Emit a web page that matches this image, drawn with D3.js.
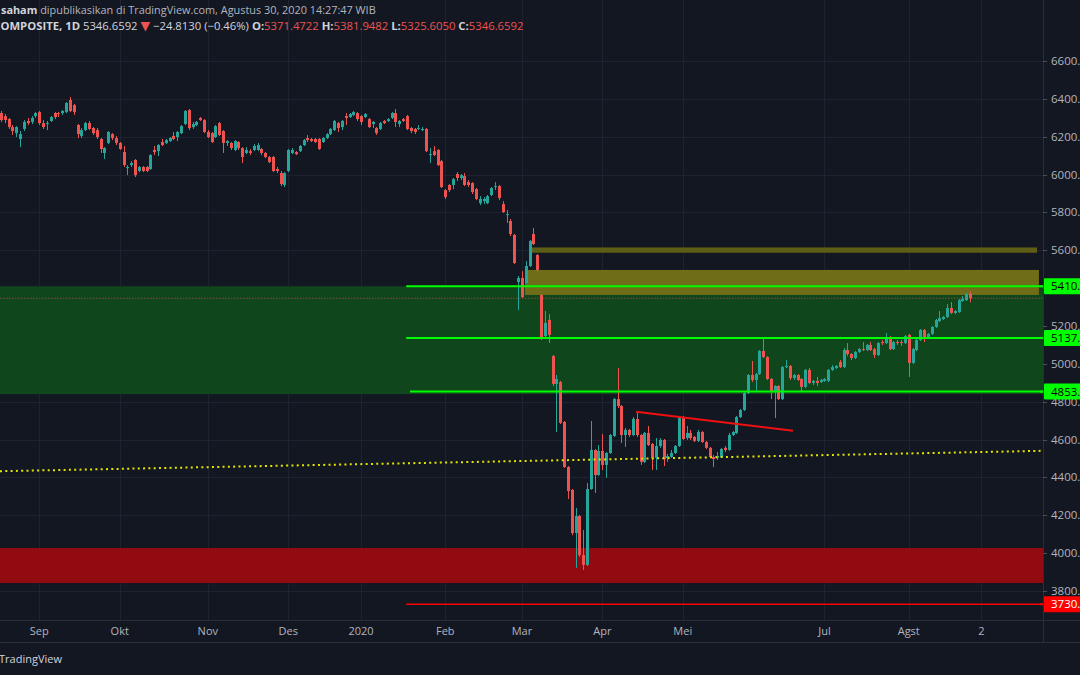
<!DOCTYPE html>
<html><head><meta charset="utf-8">
<script src="https://cdn.jsdelivr.net/npm/d3@7/dist/d3.min.js"></script>
<style>html,body{margin:0;padding:0;background:#131722;overflow:hidden}text{white-space:pre}</style>
</head><body><svg id="c" width="1080" height="675"></svg>
<script>
// ---------- data ----------
const open=[6325,6309,6293,6251,6219,6188,6241,6283,6278,6309,
6330,6272,6267,6283,6325,6325,6325,6330,6394,6367,
6262,6204,6235,6272,6246,6235,6188,6114,6167,6214,
6193,6167,6119,6034,6050,6077,6019,6040,6040,6029,
6130,6124,6172,6167,6177,6204,6198,6219,6267,6341,
6251,6262,6299,6288,6225,6219,6198,6272,6230,6167,
6167,6130,6172,6140,6114,6124,6130,6130,6135,6114,
6093,6093,6029,6008,5945,6019,6114,6119,6124,6156,
6193,6188,6188,6188,6172,6193,6214,6235,6272,6251,
6309,6304,6315,6325,6309,6304,6293,6267,6246,6241,
6283,6283,6299,6325,6267,6293,6309,6246,6241,6241,
6235,6241,6103,6124,6130,6071,5918,5945,5945,6003,
5982,5992,5960,5955,5923,5849,5860,5849,5892,5934,
5939,5844,5786,5755,5681,5432,5454,5427,5517,5686,
5575,5364,5147,5232,5041,4894,4904,4693,4455,4334,
4106,4196,3990,3938,4339,4545,4413,4540,4466,4529,
4619,4814,4777,4624,4651,4624,4709,4624,4482,4635,
4577,4503,4566,4598,4503,4508,4529,4566,4719,4608,
4635,4614,4593,4640,4587,4556,4508,4503,4508,4556,
4545,4624,4635,4719,4756,4846,4941,4915,4946,5068,
5036,4920,4851,4883,4814,4983,4989,4925,4941,4920,
4878,4968,4899,4910,4904,4910,4910,4968,4978,5010,
4983,5073,5052,5031,5063,5078,5073,5100,5078,5047,
5115,5110,5142,5078,5115,5115,5110,5153,5005,5073,
5126,5179,5142,5158,5195,5226,5237,5248,5295,5269,
5274,5332,5337,5371.47];
const high=[6336,6320,6299,6262,6256,6230,6288,6299,6309,6330,
6336,6288,6283,6309,6330,6330,6341,6383,6410,6373,
6267,6246,6278,6283,6251,6246,6193,6145,6230,6219,
6204,6172,6151,6050,6071,6082,6045,6045,6045,6108,
6151,6161,6188,6188,6198,6225,6230,6262,6341,6346,
6278,6283,6304,6293,6235,6225,6262,6278,6235,6182,
6172,6182,6177,6145,6145,6135,6161,6167,6140,6119,
6098,6098,6040,6019,6013,6135,6140,6124,6156,6188,
6209,6193,6193,6193,6198,6219,6246,6288,6278,6288,
6325,6325,6336,6330,6315,6325,6299,6283,6251,6278,
6288,6299,6330,6346,6288,6299,6315,6251,6246,6262,
6251,6246,6140,6151,6135,6077,5923,5950,5982,6013,
6003,6008,5971,5960,5929,5886,5881,5892,5934,5960,
5945,5860,5812,5765,5686,5464,5490,5543,5654,5718,
5580,5369,5279,5263,5047,4941,4910,4698,4460,4339,
4239,4202,4122,4371,4698,4550,4571,4629,4534,4629,
4820,4978,4783,4661,4656,4719,4751,4629,4640,4672,
4582,4608,4608,4603,4524,4545,4571,4725,4725,4672,
4651,4619,4651,4645,4593,4561,4518,4534,4556,4566,
4635,4645,4725,4762,4851,4946,5015,4952,5073,5137,
5041,4925,4888,4888,4989,5020,4994,4946,4946,4925,
4973,4978,4915,4931,4920,4925,4973,4994,4994,5020,
5084,5110,5057,5068,5084,5115,5105,5115,5084,5115,
5126,5163,5147,5121,5126,5126,5153,5158,5084,5131,
5184,5184,5163,5200,5237,5279,5253,5316,5327,5284,
5343,5358,5374,5381.95];
const low=[6278,6272,6241,6209,6198,6145,6230,6262,6267,6299,
6262,6241,6235,6278,6293,6304,6315,6325,6330,6315,
6193,6193,6230,6235,6209,6188,6114,6082,6161,6182,
6156,6130,6040,5997,6040,5987,6013,6013,6013,6024,
6103,6098,6151,6161,6172,6182,6177,6214,6262,6235,
6241,6256,6283,6219,6193,6167,6193,6204,6114,6151,
6130,6124,6130,6061,6108,6103,6124,6124,6103,6087,
6061,6013,6008,5939,5934,6013,6108,6103,6119,6151,
6172,6172,6167,6130,6167,6188,6209,6230,6225,6235,
6262,6299,6309,6283,6262,6299,6246,6246,6209,6235,
6267,6278,6293,6251,6251,6278,6235,6219,6214,6235,
6230,6119,6061,6098,6045,5929,5871,5908,5923,5966,
5971,5939,5934,5897,5865,5839,5844,5844,5886,5918,
5865,5797,5744,5675,5527,5284,5348,5422,5512,5628,
5490,5126,5142,5110,4883,4640,4682,4450,4286,4095,
3922,3980,3911,3932,4334,4318,4408,4439,4397,4524,
4614,4767,4582,4561,4614,4619,4614,4466,4476,4566,
4439,4439,4556,4460,4482,4503,4524,4561,4598,4598,
4598,4587,4587,4582,4550,4503,4455,4492,4503,4534,
4540,4619,4629,4714,4751,4841,4904,4851,4941,5031,
4915,4814,4714,4809,4809,4978,4915,4915,4910,4851,
4873,4894,4888,4883,4899,4904,4904,4962,4973,4978,
4978,5041,5020,5025,5057,5068,5068,5068,5031,5041,
5100,5105,5073,5073,5100,5094,5105,4931,4999,5068,
5121,5115,5137,5153,5189,5221,5232,5242,5263,5263,
5269,5327,5332,5325.61];
const close=[6288,6288,6251,6230,6251,6214,6278,6272,6299,6325,
6272,6251,6272,6304,6304,6320,6336,6378,6336,6330,
6214,6235,6272,6241,6219,6198,6135,6140,6225,6193,
6167,6135,6050,6040,6061,5997,6040,6019,6019,6103,
6119,6156,6156,6182,6193,6188,6225,6256,6336,6246,
6267,6278,6288,6225,6198,6172,6256,6209,6167,6177,
6140,6177,6140,6093,6130,6114,6151,6156,6114,6093,
6066,6019,6019,5950,6008,6130,6130,6108,6151,6182,
6182,6177,6172,6135,6193,6214,6241,6283,6246,6283,
6299,6320,6330,6293,6278,6320,6251,6278,6219,6272,
6272,6293,6325,6278,6283,6283,6241,6230,6225,6246,
6241,6124,6108,6103,6050,5934,5881,5918,5976,5982,
5997,5945,5945,5908,5871,5871,5871,5886,5929,5939,
5876,5802,5791,5686,5533,5454,5353,5517,5649,5633,
5496,5137,5216,5153,4894,4920,4688,4455,4328,4106,
4196,3990,3938,4339,4545,4413,4540,4466,4529,4624,
4814,4777,4624,4651,4624,4709,4624,4482,4635,4571,
4503,4566,4598,4497,4513,4529,4566,4719,4603,4635,
4608,4593,4640,4587,4556,4508,4497,4513,4550,4545,
4624,4640,4719,4756,4846,4941,4915,4946,5068,5036,
4920,4851,4883,4814,4983,4989,4925,4941,4915,4878,
4968,4899,4910,4899,4915,4920,4968,4983,4989,4983,
5073,5052,5031,5063,5078,5073,5100,5073,5047,5110,
5110,5142,5078,5115,5110,5110,5147,5005,5078,5126,
5179,5142,5158,5195,5232,5242,5248,5295,5269,5279,
5337,5343,5369,5346.66];

const monthLabels=["Sep","Okt","Nov","Des","2020","Feb","Mar","Apr","Mei","Jul","Agst","2"];
const monthIndex=[10,31,54,75,94,116,136,157,178,215,237,256];
const priceTicks=[3800,4000,4200,4400,4600,4800,5000,5200,5400,5600,5800,6000,6200,6400,6600];

// horizontal levels (price, start bar index)
const greenLevels=[5410,5137,4853.4];
const greenLevelStart=[105.8,105.8,106.8];
const redLevel=3730, redLevelStart=105.8;
// zones [low, high, startIndex, endIndex]
const greenZone=[4840,5410,-10,280];
const redZone=[3842,4027,-10,280];
const oliveBoxLow=[5364,5496,136.8,271];
const oliveBoxHigh=[5587,5615,138.4,270.5];
// trendlines: [idx0, price0, idx1, price1]
const redTrend=[165.8,4747,206.8,4647];
const yellowTrend=[0,4433,253,4533];
const lastPrice=5346.66;

const header1Bold="saham", header1Rest=" dipublikasikan di TradingView.com, Agustus 30, 2020 14:27:47 WIB";
const symbolText="COMPOSITE, 1D", priceText="5346.6592", changeText="\u221224.8130 (\u22120.46%)";
const ohlcText=[["O:","5371.4722"],["H:","5381.9482"],["L:","5325.6050"],["C:","5346.6592"]];

// ---------- drawing ----------
const W=1080,H=675, plotR=1043, axisTop=620, axisBot=642;
const svg=d3.select("#c");
const x=d3.scaleLinear().domain([0,253]).range([1,970]);
const y=d3.scaleLinear().domain([3800,6600]).range([591,61]);
const UP="#26a69a", DN="#ef5350", FONT="'Open Sans', 'Noto Sans', sans-serif";

svg.append("rect").attr("width",W).attr("height",H).attr("fill","#131722");

svg.append("clipPath").attr("id","pc").append("rect").attr("x",0).attr("y",0).attr("width",plotR).attr("height",axisTop);
const plot=svg.append("g").attr("clip-path","url(#pc)");

// grid
plot.selectAll(".hg").data(priceTicks).join("line")
  .attr("x1",0).attr("x2",plotR).attr("y1",d=>Math.round(y(d))+0.5).attr("y2",d=>Math.round(y(d))+0.5)
  .attr("stroke","#1f2330").attr("stroke-width",1);
plot.selectAll(".vg").data(monthIndex).join("line")
  .attr("x1",d=>Math.round(x(d))+0.5).attr("x2",d=>Math.round(x(d))+0.5).attr("y1",0).attr("y2",axisTop)
  .attr("stroke","#1f2330").attr("stroke-width",1);

// zones
function box(z,fill,op){
  plot.append("rect").attr("x",x(z[2])).attr("width",x(z[3])-x(z[2]))
    .attr("y",y(z[1])).attr("height",y(z[0])-y(z[1])).attr("fill",fill).attr("opacity",op);
}
box(greenZone,"#10461c",1);
box(redZone,"#910b10",1);
box(oliveBoxLow,"#6f6d17",1);
box(oliveBoxHigh,"#5e5d14",1);

// candles
const idx=d3.range(open.length);
const cg=plot.append("g");
cg.selectAll(".w").data(idx).join("line")
  .attr("x1",i=>Math.round(x(i))+0.5).attr("x2",i=>Math.round(x(i))+0.5)
  .attr("y1",i=>y(high[i])).attr("y2",i=>y(low[i]))
  .attr("stroke",i=>close[i]>=open[i]?UP:DN).attr("stroke-width",1);
cg.selectAll(".b").data(idx).join("rect")
  .attr("x",i=>Math.round(x(i))-1).attr("width",3)
  .attr("y",i=>y(Math.max(open[i],close[i])))
  .attr("height",i=>Math.max(1,Math.abs(y(open[i])-y(close[i]))))
  .attr("fill",i=>close[i]>=open[i]?UP:DN);

// last price dotted line
plot.append("line").attr("x1",0).attr("x2",plotR).attr("y1",y(lastPrice)).attr("y2",y(lastPrice))
  .attr("stroke","#ef5350").attr("stroke-opacity",0.55).attr("stroke-width",1).attr("stroke-dasharray","1.5,1.5");

// yellow dotted trend (extended across plot)
{
  const s=(yellowTrend[3]-yellowTrend[1])/(yellowTrend[2]-yellowTrend[0]);
  const i0=x.invert(0), i1=x.invert(plotR);
  const p=i=>yellowTrend[1]+s*(i-yellowTrend[0]);
  plot.append("line").attr("x1",0).attr("x2",plotR).attr("y1",y(p(i0))).attr("y2",y(p(i1)))
    .attr("stroke","#e5e500").attr("stroke-width",2).attr("stroke-dasharray","2,3.3");
}
// green levels
plot.selectAll(".gl").data(greenLevels).join("line")
  .attr("x1",(d,k)=>x(greenLevelStart[k])).attr("x2",plotR)
  .attr("y1",d=>y(d)).attr("y2",d=>y(d)).attr("stroke","#00ff00").attr("stroke-width",2);
plot.append("line").attr("x1",x(redLevelStart)).attr("x2",plotR).attr("y1",y(redLevel)).attr("y2",y(redLevel))
  .attr("stroke","#ff0000").attr("stroke-width",1.5);
plot.append("line").attr("x1",x(redTrend[0])).attr("y1",y(redTrend[1])).attr("x2",x(redTrend[2])).attr("y2",y(redTrend[3]))
  .attr("stroke","#f01010").attr("stroke-width",2);

// axes frame
svg.append("line").attr("x1",plotR+0.5).attr("x2",plotR+0.5).attr("y1",0).attr("y2",axisBot).attr("stroke","#2a2e39");
svg.append("line").attr("x1",0).attr("x2",W).attr("y1",axisTop+0.5).attr("y2",axisTop+0.5).attr("stroke","#2a2e39");
svg.append("line").attr("x1",0).attr("x2",W).attr("y1",axisBot+0.5).attr("y2",axisBot+0.5).attr("stroke","#2a2e39");

// price axis labels
svg.selectAll(".pl").data(priceTicks).join("text")
  .attr("x",1051).attr("y",d=>y(d)).attr("dy","0.35em")
  .attr("font-family",FONT).attr("font-size",11.5).attr("fill","#b2b5be")
  .text(d=>d.toFixed(1));
svg.selectAll(".pt").data(priceTicks).join("line")
  .attr("x1",plotR).attr("x2",plotR+4).attr("y1",d=>Math.round(y(d))+0.5).attr("y2",d=>Math.round(y(d))+0.5)
  .attr("stroke","#4a4e59");

// level tags
function tag(p,bg,fg){
  const g=svg.append("g");
  g.append("line").attr("x1",plotR-3).attr("x2",plotR).attr("y1",y(p)).attr("y2",y(p)).attr("stroke",bg).attr("stroke-width",2);
  g.append("rect").attr("x",plotR+1).attr("y",y(p)-8).attr("width",W-plotR).attr("height",16).attr("fill",bg).attr("rx",1);
  g.append("text").attr("x",1051).attr("y",y(p)).attr("dy","0.36em").attr("font-family",FONT).attr("font-size",11.5)
    .attr("fill",fg).text(p.toFixed(1));
}
greenLevels.forEach(p=>tag(p,"#00ff00","#000000"));
tag(redLevel,"#ff0000","#ffffff");

// time axis labels
svg.selectAll(".ml").data(monthLabels).join("text")
  .attr("x",(d,k)=>x(monthIndex[k])).attr("y",631).attr("dy","0.35em").attr("text-anchor","middle")
  .attr("font-family",FONT).attr("font-size",11).attr("fill","#b2b5be").text(d=>d);

// header line 1
const h1=svg.append("text").attr("x",1).attr("y",14).attr("font-family",FONT).attr("font-size",12).attr("fill","#b2b5be");
h1.append("tspan").attr("font-weight","bold").attr("fill","#d1d4dc").text(header1Bold);
h1.append("tspan").text(header1Rest);
{ const L=h1.node().getComputedTextLength(); h1.attr("font-size",12*375/L); }

// header line 2
const h2=svg.append("text").attr("y",30).attr("font-family",FONT).attr("font-size",12).attr("fill","#d1d4dc");
h2.append("tspan").attr("font-weight","bold").text(symbolText+" ");
h2.append("tspan").text(priceText+" ");
h2.append("tspan").attr("fill","#ef5350").attr("font-family","'DejaVu Sans', sans-serif").attr("font-size","1.1em").text("\u25BC");
h2.append("tspan").text(" "+changeText+" ");
ohlcText.forEach((o,k)=>{
  h2.append("tspan").attr("font-weight","bold").text((k?" ":"")+o[0]);
  h2.append("tspan").attr("fill","#ef5350").text(o[1]);
});
{
  const L=h2.node().getComputedTextLength();
  const tmp=svg.append("text").attr("font-family",FONT).attr("font-size",12).attr("font-weight","bold").text("C");
  const c=tmp.node().getComputedTextLength(); tmp.remove();
  const fs=12*524/(L-c);
  h2.attr("font-size",fs).attr("x",-c*fs/12+0.5);
}

// footer
svg.append("text").attr("x",-1).attr("y",659).attr("dy","0.35em").attr("font-family",FONT).attr("font-size",11)
  .attr("fill","#d1d4dc").text("TradingView");
</script></body></html>
